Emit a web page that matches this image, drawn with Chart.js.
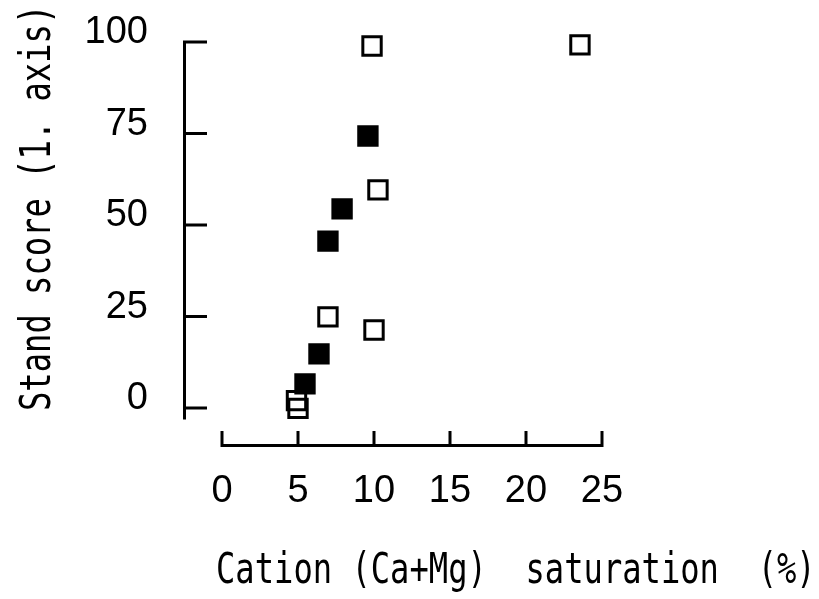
<!DOCTYPE html>
<html lang="en">
<head>
<meta charset="UTF-8">
<title>Stand score vs. cation saturation</title>
<script src="https://cdn.jsdelivr.net/npm/chart.js"></script>
<style>
  html, body { margin: 0; padding: 0; background: #fff; }
  #chart { display: block; }
</style>
</head>
<body>
<canvas id="chart" width="819" height="599"></canvas>
<script>
  // stands shown as open squares
  const openX = [9.87, 23.55, 10.26, 6.97, 10.0, 4.9, 5.0];
  const openY = [98.9, 99.2, 59.6, 24.9, 21.3, 2.0, -0.1];
  // stands shown as filled squares
  const filledX = [9.6, 7.9, 6.97, 6.38, 5.46];
  const filledY = [74.3, 54.4, 45.6, 14.8, 6.6];

  const xTicks = [0, 5, 10, 15, 20, 25];
  const yTicks = [0, 25, 50, 75, 100];

  const xTitle = 'Cation (Ca+Mg)  saturation  (%)';
  const yTitle = 'Stand score (1. axis)';

  const toPoints = (xs, ys) => xs.map((x, i) => ({ x: x, y: ys[i] }));

  // no extra room for first/last labels, the axes are placed by hand below
  const noPad = s => {
    s.paddingTop = 0; s.paddingBottom = 0;
    s.paddingLeft = 0; s.paddingRight = 0;
  };

  // narrow plotter lettering for the axis titles
  function condensedText(ctx, text, x, y, angle) {
    ctx.save();
    ctx.translate(x, y);
    ctx.rotate(angle);
    ctx.scale(0.765, 1);
    ctx.font = '42px "DejaVu Sans Mono"';
    ctx.fillStyle = '#000';
    ctx.textAlign = 'left';
    ctx.textBaseline = 'alphabetic';
    ctx.fillText(text, 0, 0);
    ctx.restore();
  }

  // plotter-style axes: y axis with inward ticks, detached x axis with upward ticks
  const plotterAxes = {
    id: 'plotterAxes',
    afterDatasetsDraw(chart) {
      const ctx = chart.ctx;
      const xs = chart.scales.x;
      const ys = chart.scales.y;
      const area = chart.chartArea;
      ctx.save();
      ctx.strokeStyle = '#000';
      ctx.lineWidth = 3;
      ctx.lineCap = 'square';

      const ax = area.left + 1.5;
      ctx.beginPath();
      ctx.moveTo(ax, ys.getPixelForValue(100));
      ctx.lineTo(ax, ys.getPixelForValue(-2.7));
      yTicks.forEach(v => {
        const py = ys.getPixelForValue(v);
        ctx.moveTo(ax, py);
        ctx.lineTo(ax + 21, py);
      });
      ctx.stroke();

      const ay = area.bottom - 1.5;
      ctx.beginPath();
      ctx.moveTo(xs.getPixelForValue(0), ay);
      ctx.lineTo(xs.getPixelForValue(25), ay);
      xTicks.forEach(v => {
        const px = xs.getPixelForValue(v);
        ctx.moveTo(px, ay);
        ctx.lineTo(px, ay - 13);
      });
      ctx.stroke();
      ctx.restore();

      condensedText(ctx, xTitle, 216, 583, 0);
      condensedText(ctx, yTitle, 50, 411, -Math.PI / 2);
    }
  };

  new Chart(document.getElementById('chart'), {
    type: 'scatter',
    data: {
      datasets: [
        {
          label: 'filled',
          data: toPoints(filledX, filledY),
          pointStyle: 'rect',
          pointRadius: 13,
          pointHoverRadius: 13,
          borderWidth: 3,
          borderColor: '#000',
          backgroundColor: '#000'
        },
        {
          label: 'open',
          data: toPoints(openX, openY),
          pointStyle: 'rect',
          pointRadius: 13,
          pointHoverRadius: 13,
          borderWidth: 3,
          borderColor: '#000',
          backgroundColor: 'rgba(0,0,0,0)'
        }
      ]
    },
    options: {
      responsive: false,
      animation: false,
      devicePixelRatio: 1,
      layout: { autoPadding: false, padding: { top: 14, right: 7, bottom: 0, left: 0 } },
      plugins: {
        legend: { display: false },
        tooltip: { enabled: false }
      },
      scales: {
        x: {
          type: 'linear',
          min: -2.566,
          max: 38.816,
          border: { display: false },
          grid: { display: false, drawTicks: false },
          afterBuildTicks: s => { s.ticks = xTicks.map(v => ({ value: v })); },
          afterFit: s => { s.height = 152; noPad(s); },
          ticks: {
            color: '#000',
            padding: 22,
            maxRotation: 0,
            autoSkip: false,
            font: { family: 'Liberation Sans', size: 38 }
          }
        },
        y: {
          type: 'linear',
          min: -10.656,
          max: 107.65,
          border: { display: false },
          grid: { display: false, drawTicks: false },
          afterBuildTicks: s => { s.ticks = yTicks.map(v => ({ value: v })); },
          afterFit: s => { s.width = 183; noPad(s); },
          ticks: {
            color: '#000',
            padding: 35,
            labelOffset: -9,
            autoSkip: false,
            font: { family: 'Liberation Sans', size: 38 }
          }
        }
      }
    },
    plugins: [plotterAxes]
  });
</script>
</body>
</html>
